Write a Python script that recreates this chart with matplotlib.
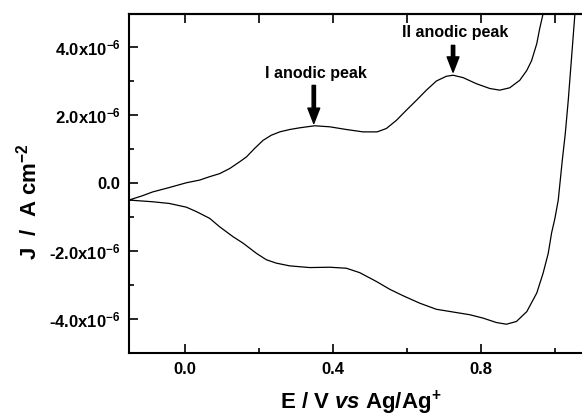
import matplotlib
matplotlib.use("Agg")
import matplotlib.pyplot as plt
from matplotlib.ticker import MultipleLocator, FuncFormatter
import numpy as np

# ── cyclic voltammogram, read as (E / V, J / 1e-6 A cm^-2) ───────────────────
# forward (anodic) sweep, left to right
E_anodic = [-0.150, -0.113, -0.086, -0.041, 0.005, 0.041, 0.068, 0.095, 0.122,
            0.149, 0.167, 0.189, 0.212, 0.234, 0.257, 0.284, 0.311, 0.351,
            0.392, 0.437, 0.482, 0.520, 0.545, 0.572, 0.599, 0.626, 0.653,
            0.680, 0.707, 0.725, 0.752, 0.788, 0.824, 0.851, 0.878, 0.905,
            0.924, 0.937, 0.951, 0.959, 0.968, 0.985]
J_anodic = [-0.50, -0.37, -0.26, -0.13, 0.01, 0.09, 0.19, 0.28, 0.43,
            0.63, 0.77, 1.02, 1.26, 1.41, 1.51, 1.58, 1.63, 1.69,
            1.66, 1.58, 1.51, 1.51, 1.61, 1.85, 2.15, 2.44, 2.74,
            3.01, 3.15, 3.18, 3.11, 2.93, 2.79, 2.74, 2.81, 3.03,
            3.32, 3.61, 4.11, 4.56, 4.99, 6.00]

# reverse (cathodic) sweep, right to left
E_cathodic = [1.060, 1.054, 1.045, 1.036, 1.028, 1.020, 1.009, 1.000, 0.991,
              0.982, 0.968, 0.951, 0.924, 0.896, 0.869, 0.842, 0.806, 0.770,
              0.725, 0.680, 0.635, 0.590, 0.554, 0.518, 0.473, 0.437, 0.392,
              0.338, 0.284, 0.248, 0.221, 0.194, 0.158, 0.131, 0.095, 0.068,
              0.032, 0.005, -0.041, -0.086, -0.150]
J_cathodic = [6.00, 4.99, 3.71, 2.44, 1.46, 0.68, -0.50, -1.04, -1.47,
              -2.07, -2.66, -3.24, -3.79, -4.08, -4.16, -4.11, -3.98, -3.88,
              -3.80, -3.72, -3.54, -3.32, -3.13, -2.90, -2.64, -2.51, -2.48,
              -2.49, -2.44, -2.36, -2.26, -2.07, -1.77, -1.58, -1.29, -1.04,
              -0.84, -0.71, -0.60, -0.55, -0.50]

# peak markers: label, peak potential, peak current
peak_labels = ["I anodic peak", "II anodic peak"]
peak_E = [0.349, 0.725]
peak_J = [1.76, 3.27]

SCALE = 1e-6

plt.rcParams.update({
    "font.family": "Liberation Sans",
    "font.weight": "bold",
    "axes.labelweight": "bold",
    "mathtext.fontset": "custom",
    "mathtext.rm": "Liberation Sans:bold",
    "mathtext.bf": "Liberation Sans:bold",
    "mathtext.it": "Liberation Sans:bold:italic",
})

fig = plt.figure(figsize=(5.82, 4.18), dpi=100)
fig.patch.set_facecolor("white")
# axes run past the right edge of the canvas, so the right frame is cut off
ax = fig.add_axes([0.2216, 0.1562, 0.7955, 0.8115])

E = E_anodic + E_cathodic
J = np.array(J_anodic + J_cathodic) * SCALE
ax.plot(E, J, color="black", linewidth=0.9)

ax.set_xlim(-0.15, 1.1)
ax.set_ylim(-5e-6, 5e-6)

# ── ticks ────────────────────────────────────────────────────────────────────
ax.xaxis.set_major_locator(MultipleLocator(0.4))
ax.xaxis.set_minor_locator(MultipleLocator(0.2))
ax.yaxis.set_major_locator(MultipleLocator(2e-6))
ax.yaxis.set_minor_locator(MultipleLocator(1e-6))


def fmt_y(v, pos):
    m = v / SCALE
    if abs(m) < 1e-9:
        return "0.0"
    return f"{m:.1f}x10$^{{-6}}$"


ax.xaxis.set_major_formatter(FuncFormatter(lambda v, p: f"{v:.1f}"))
ax.yaxis.set_major_formatter(FuncFormatter(fmt_y))

ax.tick_params(which="both", direction="in", width=1.2, labelsize=12,
               right=False, top=False)
ax.tick_params(which="major", length=6.5)
ax.tick_params(which="minor", length=3.5)
ax.tick_params(axis="x", pad=7)
ax.tick_params(axis="y", pad=6)

top = ax.secondary_xaxis("top")
top.set_xticks(np.arange(0.0, 1.01, 0.2))
top.tick_params(direction="in", length=6.5, width=1.2, labeltop=False)

for side in ["left", "bottom", "top"]:
    ax.spines[side].set_linewidth(1.5)
top.spines["top"].set_linewidth(1.5)
ax.spines["right"].set_visible(False)

ax.set_xlabel(r"E / V $\mathit{vs}$ Ag/Ag$^{+}$", fontsize=16,
              fontweight="bold", labelpad=8)
ax.set_ylabel(r"J  /  A cm$^{-2}$", fontsize=16, fontweight="bold")
ax.yaxis.set_label_coords(-0.19, 0.447)

# ── peak annotations ─────────────────────────────────────────────────────────
text_J = [3.24, 4.44]
arrow_top_J = [2.88, 4.06]
for label, xe, yj, ty, ay in zip(peak_labels, peak_E, peak_J, text_J, arrow_top_J):
    ax.annotate("", xy=(xe, yj * SCALE), xytext=(xe, ay * SCALE),
                arrowprops=dict(facecolor="black", edgecolor="black",
                                width=2.4, headwidth=8.5, headlength=11, shrink=0))
    ax.text(xe + 0.005, ty * SCALE, label, fontsize=11.5, fontweight="bold",
            ha="center", va="center")

plt.savefig("out.png", dpi=100, facecolor="white")
plt.close()
